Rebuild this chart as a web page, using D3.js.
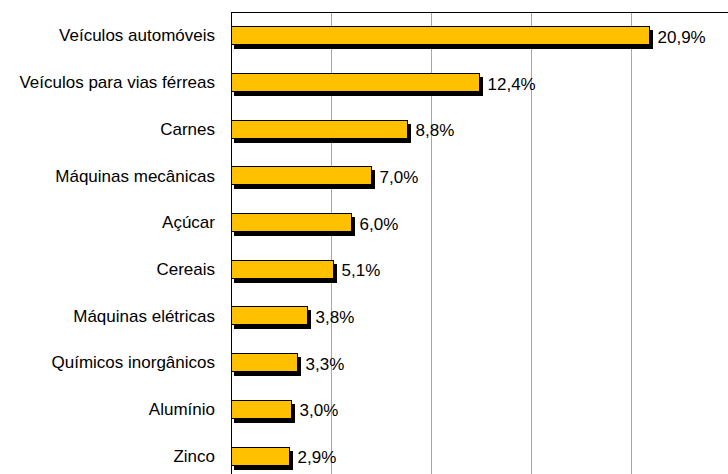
<!DOCTYPE html>
<html>
<head>
<meta charset="utf-8">
<script src="https://cdn.jsdelivr.net/npm/d3@7"></script>
<style>
  body { margin: 0; background: #fff; }
  text { font-family: Arial, "Liberation Sans", sans-serif; fill: #000; }
</style>
</head>
<body>
<svg width="728" height="474"></svg>
<script>
// categories and shares (%)
var categories = ["Veículos automóveis", "Veículos para vias férreas", "Carnes",
  "Máquinas mecânicas", "Açúcar", "Cereais", "Máquinas elétricas",
  "Químicos inorgânicos", "Alumínio", "Zinco"];
var values = [20.9, 12.4, 8.8, 7.0, 6.0, 5.1, 3.8, 3.3, 3.0, 2.9];
var gridTicks = [5, 10, 15, 20, 25];

var svg = d3.select("svg"),
    width = +svg.attr("width"),
    height = +svg.attr("height");

// note: "top" is window.top, so use other names
var plotLeft = 231, plotTop = 12.5;

// plot area runs past the picture's right and bottom edges (cropped, like the source)
var x = d3.scaleLinear().domain([0, 25]).range([plotLeft, plotLeft + 500]);
var y = d3.scaleBand().domain(categories).range([plotTop, plotTop + 467])
    .paddingInner(0.59).paddingOuter(0.295);

var data = categories.map(function(c, i) { return { name: c, value: values[i] }; });

// vertical gridlines
svg.append("g").selectAll("line")
    .data(gridTicks)
    .enter().append("line")
      .attr("x1", function(d) { return Math.round(x(d)) + 0.5; })
      .attr("x2", function(d) { return Math.round(x(d)) + 0.5; })
      .attr("y1", plotTop)
      .attr("y2", height)
      .attr("stroke", "#a6a6a6")
      .attr("stroke-width", 1);

// top border of plot area
svg.append("line")
    .attr("x1", plotLeft).attr("x2", width)
    .attr("y1", plotTop).attr("y2", plotTop)
    .attr("stroke", "#000");

// shadows
svg.append("g").selectAll("rect")
    .data(data)
    .enter().append("rect")
      .attr("x", x(0) + 3)
      .attr("y", function(d) { return Math.round(y(d.name)) + 4; })
      .attr("width", function(d) { return x(d.value) - x(0) + 1; })
      .attr("height", Math.round(y.bandwidth()))
      .attr("fill", "#000");

// bars
svg.append("g").selectAll("rect")
    .data(data)
    .enter().append("rect")
      .attr("x", x(0) + 0.5)
      .attr("y", function(d) { return Math.round(y(d.name)) + 0.5; })
      .attr("width", function(d) { return Math.round(x(d.value) - x(0)); })
      .attr("height", Math.round(y.bandwidth()) - 1)
      .attr("fill", "#ffc000")
      .attr("stroke", "#000")
      .attr("stroke-width", 1);

// axis line
svg.append("line")
    .attr("x1", plotLeft + 0.5).attr("x2", plotLeft + 0.5)
    .attr("y1", plotTop).attr("y2", height)
    .attr("stroke", "#000");

// category labels
svg.append("g").selectAll("text")
    .data(data)
    .enter().append("text")
      .attr("x", 215)
      .attr("y", function(d) { return y(d.name) + y.bandwidth() / 2; })
      .attr("dy", "0.33em")
      .attr("text-anchor", "end")
      .style("font-size", "17px")
      .text(function(d) { return d.name; });

// value labels
svg.append("g").selectAll("text")
    .data(data)
    .enter().append("text")
      .attr("x", function(d) { return x(d.value) + 8.5; })
      .attr("y", function(d) { return y(d.name) + y.bandwidth() / 2 + 1; })
      .attr("dy", "0.35em")
      .style("font-size", "17px")
      .text(function(d) { return d.value.toFixed(1).replace(".", ",") + "%"; });
</script>
</body>
</html>
